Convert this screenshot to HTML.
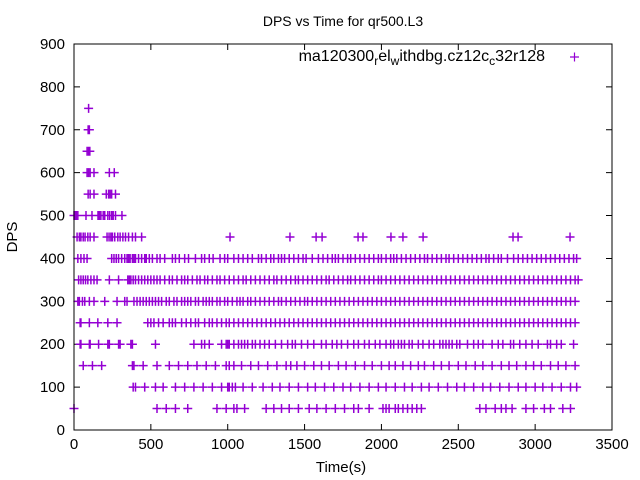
<!DOCTYPE html>
<html><head><meta charset="utf-8"><style>
body{margin:0;background:#fff}
svg{display:block;font-family:"Liberation Sans",sans-serif}
</style></head><body>
<svg id="chart" width="640" height="480" viewBox="0 0 640 480" xmlns="http://www.w3.org/2000/svg">
<rect width="640" height="480" fill="#fff"/>
<text x="343" y="26" text-anchor="middle" font-size="14">DPS vs Time for qr500.L3</text>
<g id="ticks"></g>
<g id="points"></g>
<rect x="74" y="44" width="538" height="386" fill="none" stroke="#000" stroke-width="1"/>
<text transform="translate(17,237) rotate(-90)" text-anchor="middle" font-size="15">DPS</text>
<text x="341" y="472" text-anchor="middle" font-size="15">Time(s)</text>
<g>
<text x="545" y="61" text-anchor="end" font-size="16">ma120300<tspan font-size="12" dy="4">r</tspan><tspan dy="-4">el</tspan><tspan font-size="12" dy="4">w</tspan><tspan dy="-4">ithdbg.cz12c</tspan><tspan font-size="12" dy="4">c</tspan><tspan dy="-4">32r128</tspan></text>
<path d="M570 57h9M574.5 52.5v9" stroke="#9400d3" stroke-width="1.2"/>
</g>
</svg>
<script>
const xTicks=[0,500,1000,1500,2000,2500,3000,3500];
const yTicks=[0,100,200,300,400,500,600,700,800,900];
const levels=[750,700,650,600,550,500,450,400,350,300,250,200,150,100,50];
const t750=[95];
const t700=[92,100];
const t650=[85,95,103];
const t600=[85,95,105,130,230,262];
const t550=[92,105,130,210,225,235,245,270];
const t500=[0,8,15,25,78,117,156,165,175,190,200,220,232,245,255,270,312];
const t450=[20,35,45,60,72,90,105,130,215,228,240,250,265,285,300,318,335,355,380,400,440,1015,1405,1575,1614,1848,1880,2062,2140,2271,2856,2889,3227];
const t400=[25,45,65,85,245,260,275,290,310,330,345,355,365,380,390,400,420,440,460,470,490,510,540,560,590,640,660,685,720,745,790,830,850,880,905,950,980,1000,1040,1070,1100,1130,1160,1200,1220,1250,1280,1300,1330,1350,1370,1400,1430,1460,1490,1510,1550,1590,1620,1650,1680,1700,1720,1750,1780,1800,1830,1860,1890,1920,1950,1980,2000,2030,2060,2080,2100,2130,2160,2190,2220,2250,2280,2300,2330,2360,2390,2420,2440,2470,2500,2530,2560,2590,2620,2650,2680,2700,2730,2760,2780,2820,2860,2890,2920,2950,2980,3010,3040,3070,3100,3130,3160,3190,3220,3250,3270];
const t350=[30,45,60,75,90,110,130,150,230,290,350,360,370,385,400,420,440,460,480,500,520,540,560,590,620,640,670,700,720,740,770,800,820,850,870,900,930,950,980,1010,1040,1070,1100,1120,1150,1180,1210,1240,1270,1300,1320,1350,1380,1410,1440,1460,1490,1520,1550,1580,1610,1640,1660,1690,1720,1750,1780,1800,1830,1860,1890,1920,1950,1980,2000,2030,2060,2090,2120,2150,2180,2210,2240,2270,2300,2330,2360,2390,2420,2450,2480,2510,2540,2570,2600,2630,2660,2690,2720,2750,2780,2810,2840,2870,2900,2930,2960,2990,3020,3050,3080,3110,3140,3170,3200,3230,3260,3280];
const t300=[25,35,55,70,100,130,200,280,330,345,390,410,430,450,470,490,510,530,550,570,600,620,650,670,700,720,740,760,790,810,840,860,880,900,930,950,980,1000,1030,1060,1080,1100,1130,1150,1180,1210,1240,1270,1300,1330,1350,1380,1410,1440,1470,1500,1520,1550,1580,1610,1640,1670,1700,1730,1760,1790,1820,1850,1880,1910,1940,1970,2000,2030,2060,2090,2120,2150,2180,2210,2240,2270,2300,2330,2360,2390,2420,2450,2480,2510,2540,2570,2600,2630,2660,2690,2720,2750,2780,2810,2840,2870,2900,2930,2960,2990,3020,3050,3080,3110,3140,3170,3200,3230,3260];
const t250=[40,45,100,155,220,280,480,500,520,550,580,620,640,660,700,730,760,790,810,850,880,900,930,960,990,1010,1040,1070,1100,1130,1160,1190,1220,1250,1280,1310,1340,1370,1400,1430,1460,1490,1520,1550,1580,1610,1640,1670,1700,1730,1760,1790,1820,1850,1880,1910,1940,1970,2000,2030,2060,2090,2120,2150,2180,2210,2240,2270,2300,2330,2360,2390,2420,2450,2480,2510,2540,2570,2600,2630,2660,2690,2720,2750,2780,2810,2840,2870,2900,2930,2960,2990,3020,3050,3080,3110,3140,3170,3200,3230,3260];
const t200=[40,45,100,105,160,220,230,290,300,370,380,530,780,830,850,880,960,990,1000,1010,1040,1070,1090,1110,1130,1160,1180,1210,1240,1270,1310,1350,1390,1420,1440,1480,1520,1560,1610,1640,1680,1710,1740,1780,1820,1850,1890,1920,1960,1990,2030,2060,2080,2110,2130,2150,2180,2200,2240,2270,2310,2340,2380,2400,2420,2440,2460,2490,2510,2560,2600,2630,2660,2720,2760,2790,2840,2860,2900,2940,2980,3020,3080,3100,3140,3170,3250];
const t150=[60,120,180,380,390,450,540,620,680,740,800,860,920,990,1010,1040,1090,1150,1200,1260,1320,1380,1410,1450,1500,1560,1610,1660,1720,1770,1830,1890,1940,2000,2050,2090,2140,2190,2240,2280,2340,2390,2440,2500,2550,2610,2660,2720,2780,2830,2880,2940,2990,3040,3100,3150,3200,3260];
const t100=[385,400,460,530,580,660,720,780,840,900,960,1000,1010,1030,1050,1100,1160,1230,1290,1340,1400,1460,1520,1570,1630,1690,1750,1800,1860,1920,1980,2030,2090,2150,2200,2260,2310,2370,2430,2490,2540,2600,2660,2710,2770,2830,2890,2940,3000,3050,3110,3170,3230,3270];
const t50=[0,540,600,660,740,930,990,1040,1060,1110,1250,1300,1350,1400,1460,1530,1580,1640,1700,1760,1820,1850,1920,2010,2030,2050,2090,2110,2140,2170,2200,2230,2260,2640,2680,2740,2780,2810,2850,2940,2990,3060,3100,3180,3230];
const series=[t750,t700,t650,t600,t550,t500,t450,t400,t350,t300,t250,t200,t150,t100,t50];

function xs(t){return 74+t*538/3500;}
function ys(v){return 430-v*386/900;}
const NS="http://www.w3.org/2000/svg";
const tg=document.getElementById('ticks');
xTicks.forEach(function(v){
  const p=document.createElementNS(NS,'path');
  p.setAttribute('d','M'+xs(v)+' 430v-6M'+xs(v)+' 44v6');
  p.setAttribute('stroke','#000');
  
  
  tg.appendChild(p);
  const t=document.createElementNS(NS,'text');
  t.setAttribute('x',xs(v));t.setAttribute('y',449);
  t.setAttribute('text-anchor','middle');t.setAttribute('font-size','15');
  t.textContent=v;
  
  
  tg.appendChild(t);
});
yTicks.forEach(function(v){
  const p=document.createElementNS(NS,'path');
  p.setAttribute('d','M74 '+ys(v)+'h6M612 '+ys(v)+'h-6');
  p.setAttribute('stroke','#000');
  
  
  tg.appendChild(p);
  const t=document.createElementNS(NS,'text');
  t.setAttribute('x',65);t.setAttribute('y',ys(v)+5);
  t.setAttribute('text-anchor','end');t.setAttribute('font-size','15');
  t.textContent=v;
  
  
  tg.appendChild(t);
});
const pg=document.getElementById('points');
levels.forEach(function(lv,i){
  let d='';
  series[i].forEach(function(t){
    const x=xs(t),y=ys(lv);
    d+='M'+(x-4.5)+' '+y+'h9M'+x+' '+(y-4.5)+'v9';
  });
  const p=document.createElementNS(NS,'path');
  p.setAttribute('d',d);
  p.setAttribute('stroke','#9400d3');
  p.setAttribute('stroke-width','1.5');
  p.setAttribute('fill','none');
  
  
  pg.appendChild(p);
});
</script>
</body></html>
